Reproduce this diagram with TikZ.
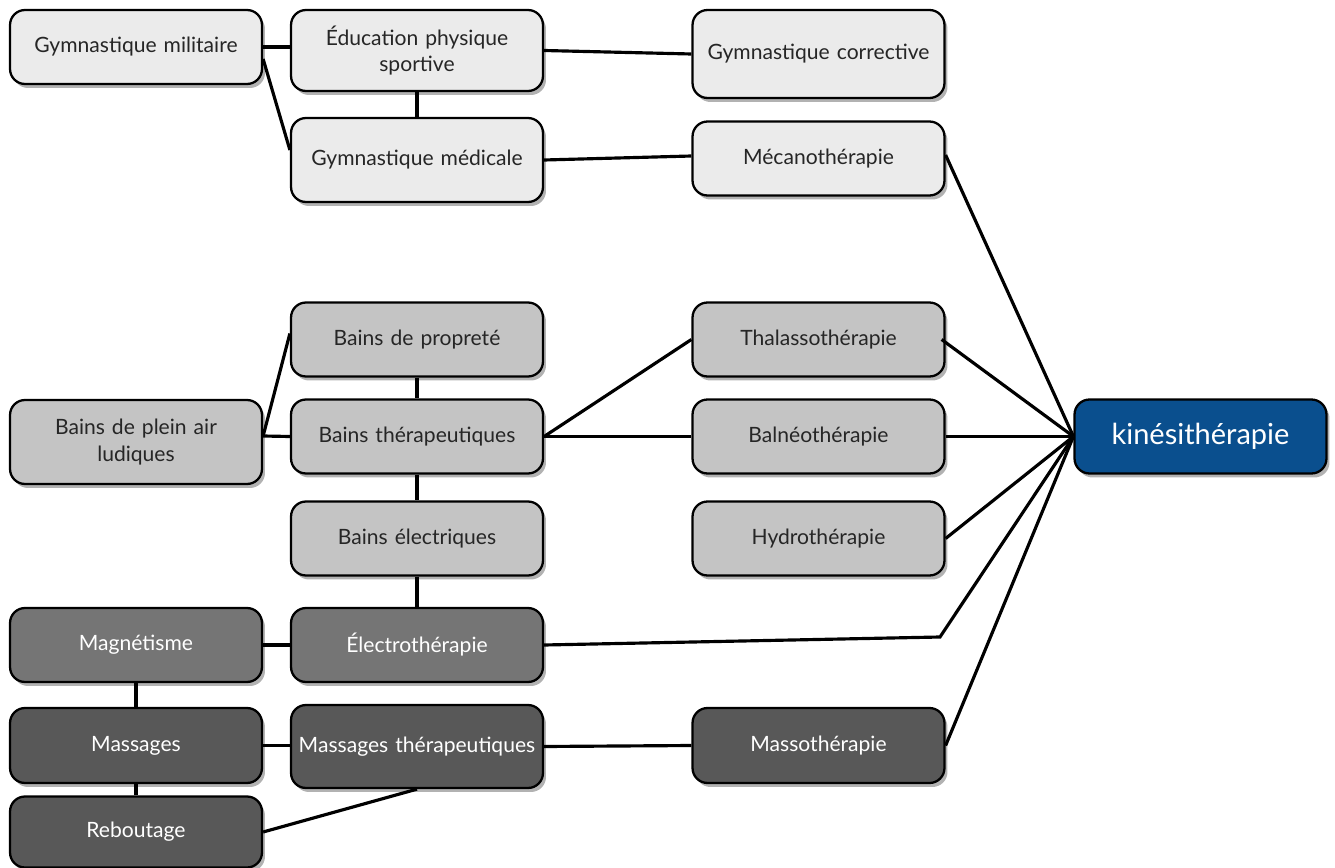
\documentclass[tikz,border=0pt]{standalone}
\usepackage{fontspec}
\setmainfont{Lato}
\usetikzlibrary{positioning, shadows, calc}
\definecolor{gclair}{HTML}{EBEBEB}
\definecolor{gmoyen}{HTML}{C4C4C4}
\definecolor{gfonce}{HTML}{757575}
\definecolor{gsombre}{HTML}{585858}
\definecolor{bleukine}{HTML}{0A4F8E}
\tikzset{boite/.style={rectangle, rounded corners=3mm, draw=black, line width=1.3pt, minimum width=5.04cm, minimum height=1.48cm, align=center, text width=4.8cm, font=\fontsize{12}{15}\selectfont, drop shadow={shadow xshift=0.6mm, shadow yshift=-0.8mm, fill=black, opacity=0.3}}}
\tikzset{clair/.style={boite, fill=gclair, text=black!85}}
\tikzset{moyen/.style={boite, fill=gmoyen, text=black!85}}
\tikzset{fonce/.style={boite, fill=gfonce, text=white}}
\tikzset{sombre/.style={boite, fill=gsombre, text=white}}
\tikzset{kine/.style={boite, fill=bleukine, text=white, font=\fontsize{16.5}{19}\selectfont}}
\tikzset{lien/.style={line width=1.8pt}}

\begin{document}
\begin{tikzpicture}[x=0.02cm, y=-0.02cm]
    \useasboundingbox (0,0) rectangle (1335,868);

    % gymnastique
    \node[clair] (milit) at (136,47) {Gymnastique militaire};
    \node[clair, minimum height=1.62cm] (educ) at (417,50.5) {Éducation physique\\sportive};
    \node[clair, minimum height=1.76cm] (correc) at (818.5,54) {Gymnastique corrective};
    \node[clair, minimum height=1.68cm] (medic) at (417,160) {Gymnastique médicale};
    \node[clair] (mecano) at (818.5,158.5) {Mécanothérapie};

    % bains
    \node[moyen] (proprete) at (417,339.5) {Bains de propreté};
    \node[moyen] (thalasso) at (818.5,339.5) {Thalassothérapie};
    \node[moyen, minimum height=1.68cm] (pleinair) at (136,442) {Bains de plein air\\ludiques};
    \node[moyen] (bainsther) at (417,436.5) {Bains thérapeutiques};
    \node[moyen] (balneo) at (818.5,436.5) {Balnéothérapie};
    \node[moyen] (bainselec) at (417,538.5) {Bains électriques};
    \node[moyen] (hydro) at (818.5,538.5) {Hydrothérapie};

    \node[kine] (kine) at (1200.5,436.5) {kinésithérapie};

    % electricite et massages
    \node[fonce] (magnet) at (136,645) {Magnétisme};
    \node[fonce] (electro) at (417,645) {Électrothérapie};
    \node[sombre, minimum height=1.5cm] (massages) at (136,745.5) {Massages};
    \node[sombre, minimum height=1.66cm] (massther) at (417,746.5) {Massages thérapeutiques};
    \node[sombre, minimum height=1.5cm] (masso) at (818.5,745.5) {Massothérapie};
    \node[sombre, minimum height=1.42cm] (rebout) at (136,832) {Reboutage};

    \coordinate (coude) at (940,637);

    \draw[lien] (milit.east) -- (milit.east -| educ.west);
    \draw[lien] ([yshift=-0.24cm]milit.east) -- ([yshift=0.2cm]medic.west);
    \draw[lien] (educ.south) -- (medic.north);
    \draw[lien] (educ.east) -- (correc.west);
    \draw[lien] (medic.east) -- ([yshift=0.05cm]mecano.west);
    \draw[lien] ([yshift=0.07cm]mecano.east) -- (kine.west);

    \draw[lien] ([yshift=0.12cm]pleinair.east) -- ([yshift=0.12cm]proprete.west);
    \draw[lien] ([yshift=0.12cm]pleinair.east) -- (bainsther.west);
    \draw[lien] (proprete.south) -- (bainsther.north);
    \draw[lien] (bainsther.south) -- (bainselec.north);
    \draw[lien] (bainsther.east) -- (thalasso.west);
    \draw[lien] (bainsther.east) -- (balneo.west);
    \draw[lien] (bainselec.south) -- (electro.north);

    \draw[lien] ([xshift=-0.08cm]thalasso.east) -- (kine.west);
    \draw[lien] (balneo.east) -- (kine.west);
    \draw[lien] (hydro.east) -- (kine.west);
    \draw[lien] (electro.east) -- (coude) -- (kine.west);
    \draw[lien] (masso.east) -- (kine.west);

    \draw[lien] (magnet.east) -- (electro.west);
    \draw[lien] (magnet.south) -- (massages.north);
    \draw[lien] (massages.east) -- (massages.east -| massther.west);
    \draw[lien] (massages.south) -- (rebout.north);
    \draw[lien] (rebout.east) -- (massther.south);
    \draw[lien] (massther.east) -- (masso.west);
\end{tikzpicture}
\end{document}
